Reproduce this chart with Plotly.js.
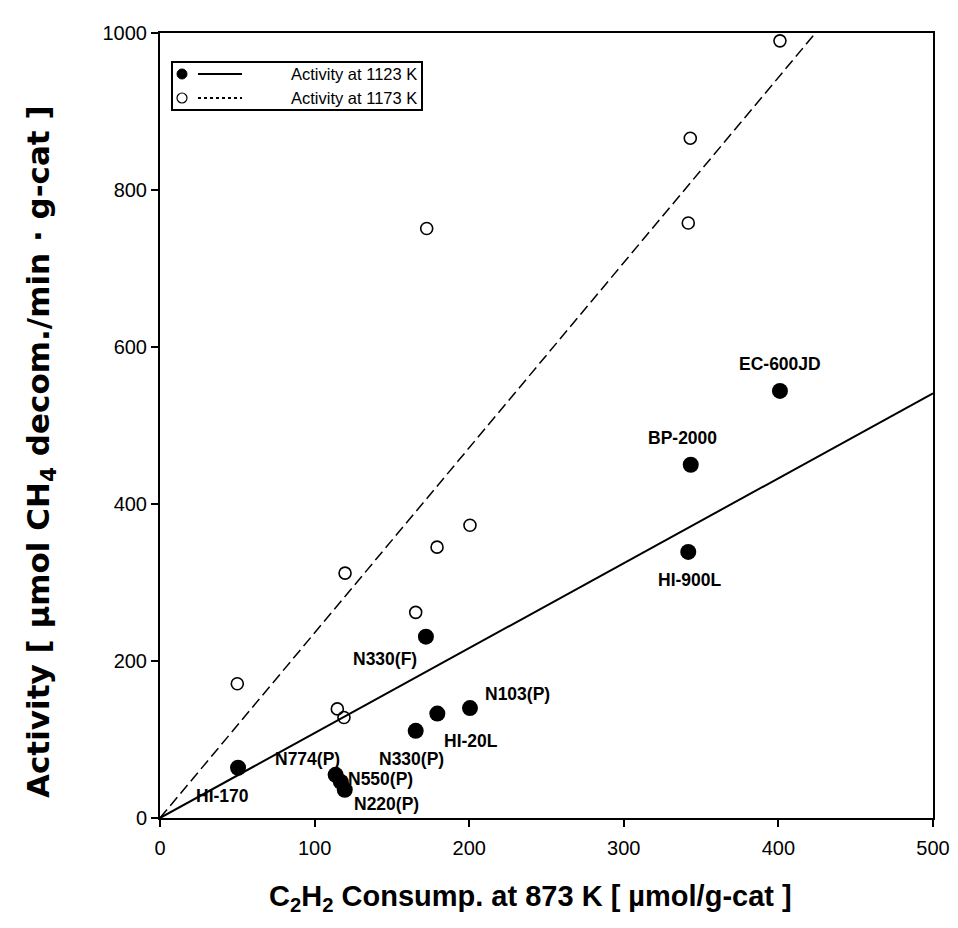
<!DOCTYPE html>
<html><head><meta charset="utf-8">
<script src="https://cdn.plot.ly/plotly-3.0.1.min.js"></script>
<style>body{margin:0;background:#fff}</style></head>
<body><div id="chart" style="width:958px;height:928px"></div>
<script>
// ---- data ----
const sampleNames = ["HI-170","N774(P)","N550(P)","N220(P)","N330(P)","HI-20L","N103(P)","N330(F)","HI-900L","BP-2000","EC-600JD"];
const consump1123 = [50.5, 113.6, 117, 119.5, 165.4, 179.4, 200.5, 172, 341.7, 343.3, 401];
const activity1123 = [64, 55, 46, 36, 111, 133, 140, 231, 339, 450, 544];
const consump1173 = [50, 114.7, 119, 119.7, 165.4, 179.2, 200.5, 172.5, 341.7, 343, 401];
const activity1173 = [171, 139, 128, 312, 262, 345, 373, 751, 758, 866, 990];
const fitX1123 = [0, 500];
const fitY1123 = [0, 541];
const fitX1173 = [0, 424];
const fitY1173 = [0, 1000];
const legendNames = ["Activity at 1123 K", "Activity at 1173 K"];
const xTicks = [0, 100, 200, 300, 400, 500];
const yTicks = [0, 200, 400, 600, 800, 1000];
const xTitle = "C<sub>2</sub>H<sub>2</sub> Consump. at 873 K [ \u00b5mol/g-cat ]";
const yTitle = "Activity [ \u00b5mol CH<sub>4</sub> decom./min \u00b7 g-cat ]";

// ---- label offsets (px) ----
const labelShift = [[-16,-28],[-28,16],[40,3],[42,-14],[-4,-28],[34,-27],[48,14],[-41,-22],[2,-28],[-8,27],[0,27]];

const FONT = "Liberation Sans, Arial, sans-serif";

const traces = [
  {x: fitX1123, y: fitY1123, mode: "lines", line: {color: "#000", width: 2}, hoverinfo: "skip"},
  {x: fitX1173, y: fitY1173, mode: "lines", line: {color: "#000", width: 1.5, dash: "11px,5px"}, hoverinfo: "skip"},
  {x: consump1173, y: activity1173, mode: "markers",
   marker: {symbol: "circle-open", size: 12, color: "#000", line: {width: 1.6, color: "#000"}}},
  {x: consump1123, y: activity1123, mode: "markers",
   marker: {symbol: "circle", size: 16, color: "#000"}}
];

const annotations = sampleNames.map((n, i) => ({
  x: consump1123[i], y: activity1123[i], xref: "x", yref: "y",
  text: "<b>" + n + "</b>", showarrow: false,
  xshift: labelShift[i][0], yshift: labelShift[i][1],
  font: {family: FONT, size: 17.5, color: "#000"}
}));

const px = v => (v - 160) / 773;
const py = v => (818 - v) / 785;

// axis titles
annotations.push({xref: "paper", yref: "paper", x: px(530), y: py(898), xanchor: "center", yanchor: "middle",
  text: "<b>" + xTitle + "</b>", showarrow: false, font: {family: FONT, size: 29, color: "#000"}});
annotations.push({xref: "paper", yref: "paper", x: px(40), y: py(452), xanchor: "center", yanchor: "middle",
  textangle: -90, text: "<b>" + yTitle + "</b>", showarrow: false,
  font: {family: "DejaVu Sans, sans-serif", size: 31, color: "#000"}});

// legend (paper coords)
const L = {x0: 172, x1: 422, y0: 62, y1: 110};
const rows = [74, 98];
const shapes = [
  {type: "rect", xref: "paper", yref: "paper", x0: px(L.x0), x1: px(L.x1), y0: py(L.y1), y1: py(L.y0),
   line: {color: "#000", width: 2}, fillcolor: "#fff", layer: "above"},
  {type: "circle", xref: "paper", yref: "paper", x0: px(177), x1: px(187), y0: py(rows[0]+5), y1: py(rows[0]-5),
   line: {color: "#000", width: 1}, fillcolor: "#000"},
  {type: "line", xref: "paper", yref: "paper", x0: px(198), x1: px(242), y0: py(rows[0]), y1: py(rows[0]),
   line: {color: "#000", width: 2}},
  {type: "circle", xref: "paper", yref: "paper", x0: px(177), x1: px(187), y0: py(rows[1]+5), y1: py(rows[1]-5),
   line: {color: "#000", width: 1.2}, fillcolor: "#fff"},
  {type: "line", xref: "paper", yref: "paper", x0: px(198), x1: px(242), y0: py(rows[1]), y1: py(rows[1]),
   line: {color: "#000", width: 2, dash: "dot"}}
];
legendNames.forEach((t, i) => annotations.push({
  xref: "paper", yref: "paper", x: px(289), y: py(rows[i]), xanchor: "left", yanchor: "middle",
  text: t, showarrow: false, font: {family: FONT, size: 16.5, color: "#000"}
}));

const layout = {
  width: 958, height: 928,
  margin: {l: 160, r: 25, t: 33, b: 110},
  paper_bgcolor: "#fff", plot_bgcolor: "#fff",
  showlegend: false,
  font: {family: FONT, color: "#000"},
  xaxis: {
    range: [0, 500], tickvals: xTicks, ticktext: xTicks.map(String),
    ticks: "outside", ticklen: 7, tickwidth: 2, tickcolor: "#000",
    showline: true, linewidth: 2, linecolor: "#000", mirror: true,
    showgrid: false, zeroline: false, ticklabelstandoff: 4,
    tickfont: {family: FONT, size: 20, color: "#000"}
  },
  yaxis: {
    range: [0, 1000], tickvals: yTicks, ticktext: yTicks.map(String),
    ticks: "outside", ticklen: 7, tickwidth: 2, tickcolor: "#000",
    showline: true, linewidth: 2, linecolor: "#000", mirror: true,
    showgrid: false, zeroline: false,
    tickfont: {family: FONT, size: 20, color: "#000"}
  },
  annotations: annotations,
  shapes: shapes
};

Plotly.newPlot("chart", traces, layout, {displayModeBar: false, staticPlot: true});
</script>
</body></html>
